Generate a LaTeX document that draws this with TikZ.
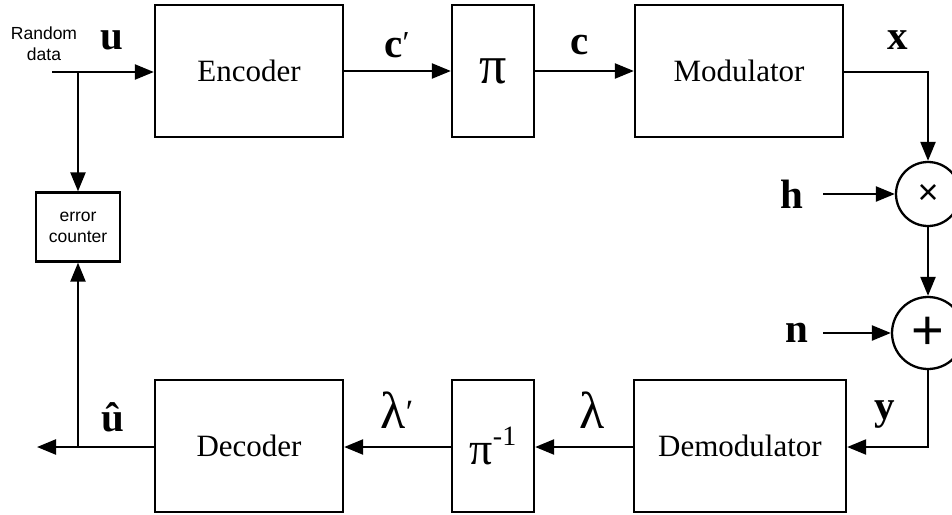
\documentclass[tikz,border=0pt]{standalone}
\usepackage{fontspec}
\setmainfont{Liberation Serif}
\newfontfamily\labelsans{Liberation Sans}
\usetikzlibrary{arrows.meta}
\begin{document}
\begin{tikzpicture}[x=1pt,y=-1pt,
  line width=2.3pt,
  sig/.style={-{Triangle[length=19pt,width=15pt]}},
  blk/.style={draw,rectangle,inner sep=0pt,minimum height=132pt,
    font=\fontsize{31}{36}\selectfont},
  junc/.style={draw,circle,inner sep=0pt},
  vec/.style={font=\fontsize{41}{44}\selectfont\bfseries},
  greek/.style={font=\fontsize{52}{56}\selectfont},
  small/.style={font=\fontsize{17.5}{21}\selectfont\labelsans,align=center}]
\useasboundingbox (0,0) rectangle (952,514);

% transmitter chain
\node[blk,minimum width=188pt] (enc) at (249,71) {Encoder};
\node[blk,minimum width=82pt] (pi) at (493,71) {\fontsize{54}{56}\selectfont\raisebox{-0.22em}{π}};
\node[blk,minimum width=208pt] (mod) at (739,71) {Modulator};

% channel
\node[junc,minimum size=64pt] (mult) at (928,194) {\fontsize{36}{38}\selectfont\labelsans ×};
\node[junc,minimum size=72pt] (plus) at (928,333) {\fontsize{56}{58}\selectfont\labelsans\raisebox{-0.05em}{+}};

% receiver chain
\node[blk,minimum width=212pt] (demod) at (740,446) {Demodulator};
\node[blk,minimum width=82pt] (pinv) at (493,446) {\fontsize{46}{48}\selectfont\raisebox{-0.2em}{π}\raisebox{0.2em}{\fontsize{28}{30}\selectfont -1}};
\node[blk,minimum width=188pt] (dec) at (249,446) {Decoder};

\node[draw,rectangle,minimum width=84pt,minimum height=69pt,small] (err) at (78,227) {error\\counter};

% free ends and corners
\coordinate (in) at (52,72);
\coordinate (tap) at (78,72);
\coordinate (out) at (37,447);
\coordinate (btap) at (78,447);
\coordinate (xcorner) at (928,72);
\coordinate (ycorner) at (928,447);
\coordinate (hin) at (823,194);
\coordinate (nin) at (823,333);

% connectors
\draw[sig] (in) -- (enc.west |- in);
\draw[sig] (tap) -- (err.north);
\draw[sig] (enc.east |- pi.west) -- (pi.west);
\draw[sig] (pi.east) -- (mod.west);
\draw[sig] (mod.east |- xcorner) -- (xcorner) -- (mult.north);
\draw[sig] (hin) -- (mult.west);
\draw[sig] (mult.south) -- (plus.north);
\draw[sig] (nin) -- (plus.west);
\draw[sig] (plus.south) -- (ycorner) -- (demod.east |- ycorner);
\draw[sig] (demod.west |- ycorner) -- (pinv.east |- ycorner);
\draw[sig] (pinv.west |- ycorner) -- (dec.east |- ycorner);
\draw[sig] (dec.west |- out) -- (out);
\draw[sig] (btap) -- (err.south);

% signal labels
\node[small] (rd) at (44,44) {Random\\data};
\node[vec] (lu) at (112,40) {u};
\node[vec] (lc1) at (397,45) {c\raisebox{0.1em}{\normalfont\fontsize{32}{34}\selectfont ′}};
\node[vec] (lc) at (580,45) {c};
\node[vec] (lx) at (898,40) {x};
\node[vec] (lh) at (792,194) {h};
\node[vec] (ln) at (797,333) {n};
\node[vec] (ly) at (885,415) {y};
\node[vec] (luh) at (113,417) {û};
\node[greek] (ll1) at (397,410) {λ\raisebox{0.1em}{\fontsize{34}{36}\selectfont ′}};
\node[greek] (ll) at (592,410) {λ};
\end{tikzpicture}
\end{document}
